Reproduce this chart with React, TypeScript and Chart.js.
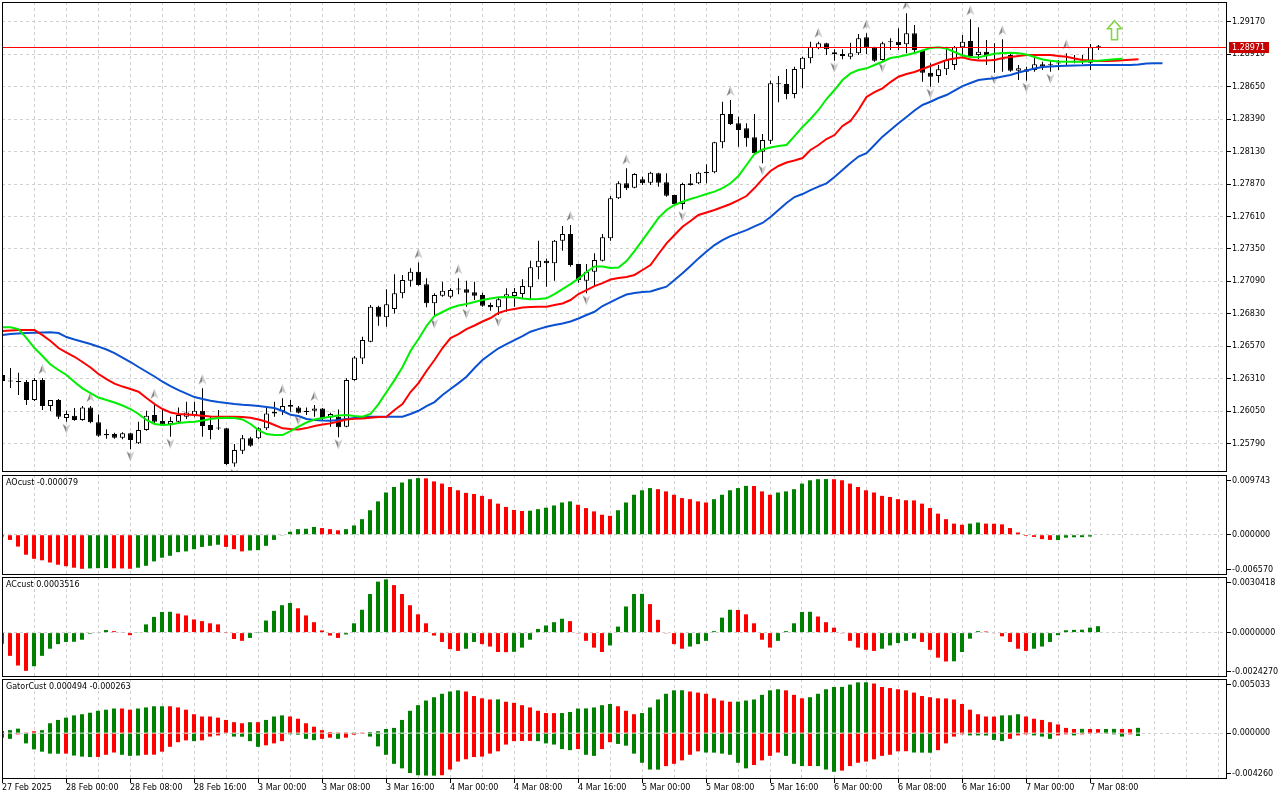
import React, { useEffect, useRef } from 'react';
import { Chart, registerables } from 'chart.js';

Chart.register(...registerables);
Chart.defaults.font.family = 'DejaVu Sans';

// H1 bars, one time label every 8 bars
const timeLabels = [
  '27 Feb 2025', '28 Feb 00:00', '28 Feb 08:00', '28 Feb 16:00', '3 Mar 00:00', '3 Mar 08:00',
  '3 Mar 16:00', '4 Mar 00:00', '4 Mar 08:00', '4 Mar 16:00', '5 Mar 00:00', '5 Mar 08:00',
  '5 Mar 16:00', '6 Mar 00:00', '6 Mar 08:00', '6 Mar 16:00', '7 Mar 00:00', '7 Mar 08:00',
];

const opens = [
  1.26339, 1.26294, 1.26290, 1.26282, 1.26138, 1.26298, 1.26090, 1.26138, 1.25994, 1.26012,
  1.25978, 1.26079, 1.25959, 1.25865, 1.25865, 1.25836, 1.25871, 1.25791, 1.25897, 1.26018,
  1.25970, 1.25943, 1.25964, 1.26004, 1.26018, 1.26052, 1.25938, 1.25913, 1.25911, 1.25630,
  1.25731, 1.25831, 1.25831, 1.25911, 1.26031, 1.26050, 1.26098, 1.26079, 1.26044, 1.26052,
  1.26071, 1.25999, 1.26004, 1.25924, 1.26298, 1.26472, 1.26606, 1.26886, 1.26801, 1.26868,
  1.26994, 1.27095, 1.27167, 1.27066, 1.26914, 1.26975, 1.26967, 1.27024, 1.27026, 1.27002,
  1.26980, 1.26900, 1.26882, 1.26954, 1.26972, 1.26988, 1.27042, 1.27202, 1.27255, 1.27234,
  1.27416, 1.27469, 1.27229, 1.27095, 1.27167, 1.27255, 1.27435, 1.27756, 1.27876, 1.27841,
  1.27908, 1.27881, 1.27956, 1.27884, 1.27782, 1.27710, 1.27876, 1.27876, 1.27956, 1.27964,
  1.28205, 1.28432, 1.28357, 1.28317, 1.28245, 1.28129, 1.28218, 1.28672, 1.28672, 1.28592,
  1.28790, 1.28878, 1.28959, 1.28999, 1.28927, 1.28913, 1.28891, 1.28919, 1.29047, 1.28967,
  1.28865, 1.29012, 1.29012, 1.28991, 1.29079, 1.28945, 1.28763, 1.28737, 1.28790, 1.28825,
  1.28967, 1.29017, 1.28905, 1.28931, 1.28870, 1.28873, 1.28905, 1.28779, 1.28771, 1.28785,
  1.28830, 1.28825, 1.28837, 1.28849, 1.28851, 1.28851, 1.28843, 1.28971,
];
const highs = [
  1.26379, 1.26395, 1.26357, 1.26298, 1.26314, 1.26314, 1.26138, 1.26146, 1.26052, 1.26074,
  1.26090, 1.26090, 1.26023, 1.25903, 1.25876, 1.25879, 1.25876, 1.25964, 1.26052, 1.26116,
  1.26058, 1.26004, 1.26079, 1.26124, 1.26124, 1.26232, 1.26004, 1.26058, 1.25916, 1.25785,
  1.25857, 1.25844, 1.25919, 1.26090, 1.26124, 1.26152, 1.26138, 1.26090, 1.26079, 1.26098,
  1.26075, 1.26036, 1.26063, 1.26312, 1.26491, 1.26646, 1.26900, 1.26894, 1.27026, 1.27146,
  1.27141, 1.27194, 1.27242, 1.27114, 1.26994, 1.27087, 1.27034, 1.27114, 1.27095, 1.27087,
  1.26999, 1.26918, 1.26962, 1.27034, 1.27036, 1.27106, 1.27255, 1.27416, 1.27274, 1.27421,
  1.27533, 1.27542, 1.27231, 1.27229, 1.27315, 1.27469, 1.27774, 1.27892, 1.27996, 1.27956,
  1.27929, 1.27969, 1.27961, 1.27956, 1.27785, 1.27881, 1.27951, 1.27969, 1.28028, 1.28210,
  1.28530, 1.28544, 1.28410, 1.28357, 1.28432, 1.28271, 1.28699, 1.28737, 1.28793, 1.28811,
  1.28891, 1.29012, 1.29012, 1.29004, 1.28951, 1.28951, 1.29004, 1.29073, 1.29079, 1.28972,
  1.29012, 1.29039, 1.29119, 1.29239, 1.29146, 1.28948, 1.28838, 1.28825, 1.28972, 1.28977,
  1.29065, 1.29191, 1.29127, 1.29025, 1.28999, 1.29031, 1.28919, 1.28825, 1.28811, 1.28905,
  1.28851, 1.28857, 1.28865, 1.28919, 1.28905, 1.28905, 1.28993, 1.28985,
];
const lows = [
  1.26258, 1.26234, 1.26178, 1.26098, 1.26130, 1.26058, 1.26050, 1.25986, 1.25964, 1.25972,
  1.25972, 1.25951, 1.25844, 1.25828, 1.25828, 1.25823, 1.25743, 1.25785, 1.25892, 1.25951,
  1.25930, 1.25844, 1.25956, 1.25986, 1.26004, 1.25844, 1.25823, 1.25897, 1.25617, 1.25603,
  1.25705, 1.25764, 1.25823, 1.25897, 1.26004, 1.26018, 1.26044, 1.26031, 1.26018, 1.26004,
  1.25978, 1.25924, 1.25839, 1.25919, 1.26293, 1.26427, 1.26601, 1.26734, 1.26726, 1.26833,
  1.26954, 1.27047, 1.27055, 1.26882, 1.26806, 1.26967, 1.26954, 1.26986, 1.26886, 1.26940,
  1.26886, 1.26854, 1.26820, 1.26846, 1.26886, 1.26946, 1.26946, 1.27106, 1.27047, 1.27095,
  1.27335, 1.27207, 1.27079, 1.26994, 1.27047, 1.27249, 1.27416, 1.27750, 1.27822, 1.27836,
  1.27862, 1.27862, 1.27849, 1.27769, 1.27702, 1.27667, 1.27858, 1.27870, 1.27876, 1.27956,
  1.28157, 1.28344, 1.28170, 1.28170, 1.28103, 1.28036, 1.28191, 1.28526, 1.28550, 1.28558,
  1.28638, 1.28838, 1.28951, 1.28905, 1.28859, 1.28870, 1.28870, 1.28905, 1.28913, 1.28851,
  1.28859, 1.28945, 1.28945, 1.28919, 1.28919, 1.28691, 1.28651, 1.28683, 1.28745, 1.28785,
  1.28878, 1.28891, 1.28870, 1.28825, 1.28763, 1.28771, 1.28771, 1.28704, 1.28699, 1.28771,
  1.28785, 1.28771, 1.28785, 1.28825, 1.28838, 1.28833, 1.28785, 1.28945,
];
const closes = [
  1.26290, 1.26286, 1.26282, 1.26138, 1.26298, 1.26090, 1.26138, 1.26004, 1.26026, 1.25978,
  1.26079, 1.25959, 1.25852, 1.25855, 1.25836, 1.25871, 1.25817, 1.25897, 1.26012, 1.25964,
  1.25943, 1.25970, 1.26018, 1.26039, 1.26052, 1.25930, 1.25897, 1.25909, 1.25625, 1.25737,
  1.25831, 1.25772, 1.25911, 1.26031, 1.26044, 1.26090, 1.26084, 1.26036, 1.26043, 1.26071,
  1.25991, 1.26026, 1.25919, 1.26298, 1.26480, 1.26619, 1.26886, 1.26806, 1.26906, 1.26994,
  1.27100, 1.27167, 1.27060, 1.26914, 1.26980, 1.27015, 1.27020, 1.27026, 1.26999, 1.26975,
  1.26894, 1.26882, 1.26946, 1.26986, 1.27004, 1.27052, 1.27202, 1.27255, 1.27234, 1.27416,
  1.27469, 1.27221, 1.27100, 1.27167, 1.27261, 1.27443, 1.27756, 1.27876, 1.27836, 1.27951,
  1.27876, 1.27961, 1.27881, 1.27777, 1.27710, 1.27870, 1.27862, 1.27961, 1.27969, 1.28205,
  1.28432, 1.28352, 1.28303, 1.28237, 1.28117, 1.28223, 1.28678, 1.28670, 1.28592, 1.28793,
  1.28883, 1.28972, 1.28999, 1.28951, 1.28911, 1.28897, 1.28919, 1.29039, 1.28967, 1.28859,
  1.28999, 1.29007, 1.28985, 1.29079, 1.28945, 1.28763, 1.28731, 1.28790, 1.28865, 1.28967,
  1.29012, 1.28897, 1.28931, 1.28897, 1.28862, 1.28868, 1.28779, 1.28798, 1.28790, 1.28830,
  1.28811, 1.28822, 1.28838, 1.28851, 1.28853, 1.28849, 1.28967, 1.28971,
];

// Alligator lines, already shifted forward (jaw 8, teeth 5, lips 3 bars)
const jaw = [
  1.26659, 1.26667, 1.26671, 1.26675, 1.26678, 1.26679, 1.26681, 1.26675, 1.26643, 1.26623,
  1.26606, 1.26587, 1.26566, 1.26543, 1.26515, 1.26479, 1.26443, 1.26403, 1.26365, 1.26327,
  1.26285, 1.26250, 1.26218, 1.26190, 1.26162, 1.26146, 1.26132, 1.26122, 1.26114, 1.26106,
  1.26100, 1.26096, 1.26090, 1.26082, 1.26074, 1.26050, 1.26020, 1.26010, 1.25986, 1.25978,
  1.25974, 1.25972, 1.25978, 1.25986, 1.25994, 1.26002, 1.26004, 1.26004, 1.26004, 1.26004,
  1.26004, 1.26026, 1.26052, 1.26090, 1.26122, 1.26178, 1.26226, 1.26274, 1.26325, 1.26395,
  1.26459, 1.26507, 1.26553, 1.26587, 1.26619, 1.26651, 1.26686, 1.26707, 1.26726, 1.26740,
  1.26752, 1.26768, 1.26792, 1.26820, 1.26846, 1.26892, 1.26924, 1.26956, 1.26984, 1.26996,
  1.27004, 1.27008, 1.27028, 1.27047, 1.27100, 1.27154, 1.27213, 1.27274, 1.27329, 1.27381,
  1.27421, 1.27453, 1.27477, 1.27501, 1.27530, 1.27558, 1.27606, 1.27662, 1.27718, 1.27766,
  1.27790, 1.27822, 1.27850, 1.27876, 1.27926, 1.27983, 1.28039, 1.28091, 1.28117, 1.28183,
  1.28250, 1.28303, 1.28357, 1.28408, 1.28460, 1.28504, 1.28530, 1.28560, 1.28584, 1.28620,
  1.28656, 1.28680, 1.28704, 1.28712, 1.28718, 1.28733, 1.28745, 1.28765, 1.28781, 1.28797,
  1.28809, 1.28813, 1.28817, 1.28819, 1.28821, 1.28822, 1.28825, 1.28825, 1.28825, 1.28825,
  1.28825, 1.28825, 1.28829, 1.28837, 1.28838, 1.28838,
];
const teeth = [
  1.26691, 1.26695, 1.26699, 1.26699, 1.26699, 1.26659, 1.26611, 1.26555, 1.26519, 1.26485,
  1.26443, 1.26399, 1.26347, 1.26306, 1.26270, 1.26246, 1.26226, 1.26205, 1.26154, 1.26106,
  1.26066, 1.26038, 1.26026, 1.26022, 1.26018, 1.26012, 1.26006, 1.26004, 1.26004, 1.26004,
  1.26002, 1.25996, 1.25982, 1.25964, 1.25938, 1.25911, 1.25905, 1.25901, 1.25913, 1.25930,
  1.25942, 1.25951, 1.25966, 1.25982, 1.25987, 1.25991, 1.25996, 1.26002, 1.26004, 1.26058,
  1.26106, 1.26202, 1.26274, 1.26371, 1.26459, 1.26555, 1.26635, 1.26667, 1.26707, 1.26736,
  1.26768, 1.26796, 1.26836, 1.26857, 1.26868, 1.26880, 1.26884, 1.26886, 1.26886, 1.26900,
  1.26912, 1.26940, 1.26988, 1.27020, 1.27052, 1.27076, 1.27104, 1.27116, 1.27125, 1.27141,
  1.27181, 1.27221, 1.27309, 1.27395, 1.27461, 1.27528, 1.27574, 1.27622, 1.27642, 1.27662,
  1.27686, 1.27710, 1.27742, 1.27774, 1.27838, 1.27910, 1.27975, 1.28015, 1.28043, 1.28059,
  1.28079, 1.28143, 1.28183, 1.28231, 1.28263, 1.28336, 1.28376, 1.28464, 1.28568, 1.28608,
  1.28638, 1.28688, 1.28731, 1.28753, 1.28769, 1.28793, 1.28817, 1.28841, 1.28865, 1.28877,
  1.28887, 1.28869, 1.28861, 1.28861, 1.28865, 1.28881, 1.28889, 1.28897, 1.28905, 1.28905,
  1.28905, 1.28905, 1.28897, 1.28891, 1.28877, 1.28865, 1.28861, 1.28857, 1.28857, 1.28859,
  1.28862, 1.28867, 1.28870,
];
const lips = [
  1.26721, 1.26721, 1.26707, 1.26635, 1.26555, 1.26491, 1.26423, 1.26379, 1.26339, 1.26282,
  1.26232, 1.26194, 1.26158, 1.26138, 1.26118, 1.26094, 1.26066, 1.26026, 1.25978, 1.25946,
  1.25938, 1.25942, 1.25954, 1.25959, 1.25964, 1.25974, 1.25986, 1.25994, 1.25996, 1.25994,
  1.25982, 1.25946, 1.25897, 1.25865, 1.25857, 1.25857, 1.25889, 1.25924, 1.25958, 1.25982,
  1.25994, 1.26004, 1.26014, 1.26018, 1.26010, 1.26004, 1.26026, 1.26106, 1.26202, 1.26298,
  1.26403, 1.26531, 1.26627, 1.26732, 1.26812, 1.26844, 1.26876, 1.26896, 1.26908, 1.26924,
  1.26940, 1.26952, 1.26962, 1.26964, 1.26962, 1.26952, 1.26946, 1.26948, 1.26954, 1.26988,
  1.27028, 1.27068, 1.27112, 1.27165, 1.27209, 1.27209, 1.27197, 1.27201, 1.27253, 1.27333,
  1.27421, 1.27509, 1.27598, 1.27662, 1.27702, 1.27728, 1.27750, 1.27769, 1.27790, 1.27809,
  1.27838, 1.27876, 1.27935, 1.28023, 1.28111, 1.28147, 1.28163, 1.28175, 1.28183, 1.28255,
  1.28328, 1.28392, 1.28464, 1.28552, 1.28624, 1.28704, 1.28757, 1.28785, 1.28798, 1.28825,
  1.28851, 1.28881, 1.28891, 1.28905, 1.28921, 1.28941, 1.28961, 1.28967, 1.28957, 1.28929,
  1.28901, 1.28889, 1.28886, 1.28901, 1.28915, 1.28921, 1.28923, 1.28919, 1.28909, 1.28889,
  1.28869, 1.28858, 1.28853, 1.28851, 1.28851, 1.28851, 1.28857, 1.28859, 1.28865, 1.28870,
  1.28875,
];

// bars carrying a fractal mark
const fractalUp = [5, 11, 19, 25, 35, 39, 52, 57, 71, 78, 91, 102, 108, 113, 121, 125, 133];
const fractalDown = [8, 16, 21, 29, 37, 42, 54, 58, 62, 73, 85, 95, 104, 110, 116, 124, 128, 131];

const priceTicks = [
  1.2579, 1.2605, 1.2631, 1.2657, 1.2683, 1.2709, 1.2735,
  1.2761, 1.2787, 1.2813, 1.2839, 1.2865, 1.2891, 1.2917,
];
const priceRange = [1.25561, 1.2933];
const currentPrice = 1.28971;
const buySignal = { bar: 139, price: 1.2918 };

const aoValues = [
  -0.00030, -0.00085, -0.00193, -0.00326, -0.00393, -0.00417, -0.00453, -0.00489, -0.00514, -0.00538,
  -0.00556, -0.00550, -0.00546, -0.00544, -0.00548, -0.00550, -0.00556, -0.00538, -0.00507, -0.00435,
  -0.00375, -0.00344, -0.00284, -0.00272, -0.00236, -0.00199, -0.00181, -0.00163, -0.00199, -0.00236,
  -0.00272, -0.00257, -0.00252, -0.00181, -0.00085, -0.00012, 0.00048, 0.00091, 0.00097, 0.00127,
  0.00109, 0.00091, 0.00072, 0.00091, 0.00151, 0.00254, 0.00399, 0.00544, 0.00689, 0.00779,
  0.00852, 0.00906, 0.00924, 0.00920, 0.00870, 0.00834, 0.00779, 0.00725, 0.00683, 0.00664,
  0.00634, 0.00580, 0.00507, 0.00453, 0.00405, 0.00387, 0.00392, 0.00417, 0.00441, 0.00477,
  0.00526, 0.00544, 0.00489, 0.00435, 0.00381, 0.00326, 0.00308, 0.00399, 0.00526, 0.00652,
  0.00725, 0.00761, 0.00743, 0.00707, 0.00652, 0.00598, 0.00580, 0.00544, 0.00526, 0.00580,
  0.00652, 0.00725, 0.00761, 0.00797, 0.00795, 0.00707, 0.00652, 0.00689, 0.00707, 0.00743,
  0.00834, 0.00888, 0.00906, 0.00908, 0.00906, 0.00888, 0.00834, 0.00779, 0.00725, 0.00689,
  0.00634, 0.00616, 0.00580, 0.00562, 0.00560, 0.00507, 0.00435, 0.00344, 0.00254, 0.00181,
  0.00163, 0.00181, 0.00199, 0.00181, 0.00179, 0.00169, 0.00109, 0.00036, -0.00018, -0.00036,
  -0.00072, -0.00085, -0.00087, -0.00048, -0.00042, -0.00040, -0.00030, -0.000079,
];
const aoColorRuns = 'r11 g3 r3 g11 r3 g9 r3 g10 r13 g6 r5 g5 r7 g5 r3 g7 r17 g2 r9 g6';
const aoAxis = [-0.00657, 0, 0.009743];

const acValues = [
  -0.00061, -0.00127, -0.00180, -0.00209, -0.00184, -0.00127, -0.00088, -0.00063, -0.00051, -0.00050,
  -0.00039, -0.00006, 0.00002, 0.00014, 0.00008, 0.00002, -0.00014, 0.00002, 0.00045, 0.00086,
  0.00113, 0.00114, 0.00104, 0.00094, 0.00072, 0.00063, 0.00051, 0.00045, 0.00001, -0.00035,
  -0.00045, -0.00029, 0.00001, 0.00066, 0.00119, 0.00150, 0.00162, 0.00133, 0.00094, 0.00057,
  0.00012, -0.00016, -0.00029, -0.00010, 0.00051, 0.00125, 0.00211, 0.00279, 0.00291, 0.00260,
  0.00211, 0.00150, 0.00100, 0.00051, -0.00016, -0.00051, -0.00090, -0.00100, -0.00088, -0.00051,
  -0.00063, -0.00076, -0.00106, -0.00107, -0.00105, -0.00082, -0.00039, 0.00020, 0.00039, 0.00057,
  0.00076, 0.00063, -0.00004, -0.00045, -0.00082, -0.00106, -0.00070, 0.00033, 0.00143, 0.00211,
  0.00212, 0.00156, 0.00070, -0.00004, -0.00063, -0.00088, -0.00076, -0.00063, -0.00045, 0.00008,
  0.00082, 0.00125, 0.00124, 0.00100, 0.00051, -0.00039, -0.00082, -0.00045, 0.00008, 0.00051,
  0.00113, 0.00114, 0.00088, 0.00057, 0.00027, -0.00004, -0.00045, -0.00082, -0.00094, -0.00100,
  -0.00088, -0.00070, -0.00057, -0.00045, -0.00033, -0.00051, -0.00094, -0.00137, -0.00158, -0.00157,
  -0.00106, -0.00033, 0.00008, 0.00006, -0.00002, -0.00020, -0.00051, -0.00088, -0.00100, -0.00088,
  -0.00076, -0.00051, -0.00014, 0.00013, 0.00015, 0.00016, 0.00027, 0.0003516,
];
const acColorRuns = 'r4 g10 r3 g5 r9 g6 r6 g6 r9 g2 r4 g7 r5 g5 r5 g6 r5 g5 r8 g5 r4 g4 r6 g9';
const acAxis = [-0.002427, 0, 0.0030418];

// Gator is drawn with the teeth shift, so it runs 5 bars past the last candle
const gatorUp = [
  0.00021, 0.00028, 0.00042, 0.00002, 0.00018, 0.00028, 0.00092, 0.00123, 0.00144, 0.00165,
  0.00176, 0.00190, 0.00208, 0.00218, 0.00229, 0.00229, 0.00218, 0.00229, 0.00239, 0.00250,
  0.00250, 0.00250, 0.00239, 0.00218, 0.00176, 0.00155, 0.00155, 0.00144, 0.00123, 0.00102,
  0.00092, 0.00102, 0.00102, 0.00123, 0.00155, 0.00165, 0.00155, 0.00134, 0.00092, 0.00060,
  0.00028, 0.00011, 0.00001, 0.00001, 0.00002, 0.00002, 0.00011, 0.00018, 0.00039, 0.00049,
  0.00123, 0.00208, 0.00260, 0.00303, 0.00334, 0.00366, 0.00387, 0.00398, 0.00387, 0.00345,
  0.00324, 0.00313, 0.00314, 0.00292, 0.00282, 0.00260, 0.00239, 0.00208, 0.00187, 0.00186,
  0.00187, 0.00197, 0.00229, 0.00230, 0.00239, 0.00260, 0.00271, 0.00250, 0.00208, 0.00176,
  0.00187, 0.00239, 0.00313, 0.00366, 0.00398, 0.00399, 0.00387, 0.00377, 0.00366, 0.00324,
  0.00303, 0.00292, 0.00293, 0.00303, 0.00313, 0.00356, 0.00398, 0.00408, 0.00398, 0.00356,
  0.00324, 0.00334, 0.00366, 0.00408, 0.00429, 0.00430, 0.00451, 0.00472, 0.00473, 0.00461,
  0.00429, 0.00419, 0.00408, 0.00398, 0.00377, 0.00345, 0.00334, 0.00324, 0.00323, 0.00313,
  0.00271, 0.00218, 0.00176, 0.00155, 0.00154, 0.00165, 0.00166, 0.00176, 0.00155, 0.00134,
  0.00123, 0.00102, 0.00081, 0.00049, 0.00039, 0.00040, 0.00039, 0.00038, 0.00039, 0.00040,
  0.00039, 0.00038, 0.000494,
];
const gatorUpColorRuns = 'g3 r2 g10 r2 g4 r10 g1 r1 g3 r8 g1 r1 g12 r4 g1 r7 g7 r3 g6 r6 g6 r3 g8 r16 g3 r7 g1 r2 g2 r2 g1';
const gatorDown = [
  -0.00042, -0.00053, -0.00011, -0.00095, -0.00151, -0.00172, -0.00190, -0.00191, -0.00190, -0.00208,
  -0.00218, -0.00222, -0.00221, -0.00201, -0.00180, -0.00201, -0.00211, -0.00208, -0.00201, -0.00200,
  -0.00172, -0.00127, -0.00084, -0.00067, -0.00074, -0.00067, -0.00032, -0.00021, -0.00004, -0.00032,
  -0.00033, -0.00074, -0.00127, -0.00113, -0.00095, -0.00074, -0.00010, -0.00014, -0.00053, -0.00065,
  -0.00053, -0.00042, -0.00053, -0.00042, -0.00014, -0.00007, -0.00032, -0.00123, -0.00201, -0.00285,
  -0.00327, -0.00370, -0.00391, -0.00394, -0.00395, -0.00391, -0.00338, -0.00264, -0.00243, -0.00222,
  -0.00218, -0.00190, -0.00169, -0.00106, -0.00074, -0.00073, -0.00072, -0.00074, -0.00095, -0.00106,
  -0.00148, -0.00158, -0.00148, -0.00201, -0.00211, -0.00148, -0.00084, -0.00100, -0.00116, -0.00190,
  -0.00275, -0.00338, -0.00339, -0.00306, -0.00285, -0.00253, -0.00201, -0.00169, -0.00180, -0.00181,
  -0.00190, -0.00201, -0.00275, -0.00327, -0.00296, -0.00253, -0.00211, -0.00180, -0.00211, -0.00285,
  -0.00306, -0.00305, -0.00306, -0.00338, -0.00359, -0.00348, -0.00306, -0.00275, -0.00264, -0.00243,
  -0.00211, -0.00201, -0.00169, -0.00168, -0.00180, -0.00181, -0.00182, -0.00158, -0.00095, -0.00032,
  -0.00011, -0.00021, -0.00021, -0.00022, -0.00063, -0.00074, -0.00053, -0.00021, -0.00011, -0.00021,
  -0.00032, -0.00053, -0.00021, -0.00011, -0.00021, -0.00011, -0.00007, -0.00004, -0.00007, -0.00011,
  -0.00032, -0.00011, -0.000263,
];
const gatorDownColorRuns = 'g2 r1 g5 r1 g3 r3 g3 r6 g1 r4 g4 r3 g4 r2 g1 r3 g9 r12 g5 r1 g2 r2 g6 r5 g6 r4 g3 r1 g3 r9 g3 r4 g5 r3 g3 r2 g1 r3 g3 r1 g1';
const gatorAxis = [-0.00426, 0, 0.005033];

const FONT = { family: 'DejaVu Sans', size: 8 };
const GRID = '#d0d0d0';
const GREEN = '#008000';
const RED = '#ff0000';
const PLOT_W = 1225; // width of every pane's plot area in px
const BAR_PX = 8;

const runColors = (spec: string) =>
  spec.split(' ').flatMap((r) => Array(Number(r.slice(1))).fill(r[0] === 'g' ? GREEN : RED));

const pts = (arr: number[]) => arr.map((v, i) => ({ x: i, y: v }));

const framePlugin = {
  id: 'frame',
  afterDraw(chart: any) {
    const { ctx, chartArea: a } = chart;
    ctx.save();
    ctx.setLineDash([]);
    ctx.strokeStyle = '#000';
    ctx.lineWidth = 1;
    ctx.strokeRect(a.left + 0.5, a.top + 0.5, a.right - a.left - 1, a.bottom - a.top - 1);
    ctx.restore();
  },
};

const legendPlugin = (text: string) => ({
  id: 'paneLegend',
  afterDraw(chart: any) {
    const { ctx, chartArea: a } = chart;
    ctx.save();
    ctx.font = '8px "DejaVu Sans"';
    ctx.fillStyle = '#000';
    ctx.textBaseline = 'top';
    ctx.fillText(text, a.left + 4, a.top + 4);
    ctx.restore();
  },
});

// bid line across the plot, its price tag on the right scale
const bidPlugin = {
  id: 'bidLine',
  afterDatasetsDraw(chart: any) {
    const { ctx, chartArea: a } = chart;
    const y = Math.round(chart.scales.y.getPixelForValue(currentPrice));
    ctx.save();
    ctx.globalAlpha = 1;
    ctx.globalCompositeOperation = 'source-over';
    ctx.fillStyle = '#ff0000';
    ctx.fillRect(a.left, y, a.right - a.left, 1);
    ctx.restore();
  },
  afterDraw(chart: any) {
    const { ctx, chartArea: a } = chart;
    const y = Math.round(chart.scales.y.getPixelForValue(currentPrice));
    ctx.save();
    ctx.fillStyle = '#c80000';
    ctx.fillRect(a.right + 2, y - 5, 40, 11);
    ctx.fillStyle = '#fff';
    ctx.font = '8px "DejaVu Sans"';
    ctx.textBaseline = 'middle';
    ctx.fillText(currentPrice.toFixed(5), a.right + 5, y + 0.5);
    ctx.restore();
  },
};

const signalPlugin = {
  id: 'buySignal',
  afterDatasetsDraw(chart: any) {
    const { ctx } = chart;
    const x = chart.scales.x.getPixelForValue(buySignal.bar);
    const t = chart.scales.y.getPixelForValue(buySignal.price);
    ctx.save();
    ctx.setLineDash([]);
    ctx.beginPath();
    ctx.moveTo(x, t);
    ctx.lineTo(x + 7, t + 8);
    ctx.lineTo(x + 3, t + 8);
    ctx.lineTo(x + 3, t + 19);
    ctx.lineTo(x - 3, t + 19);
    ctx.lineTo(x - 3, t + 8);
    ctx.lineTo(x - 7, t + 8);
    ctx.closePath();
    ctx.fillStyle = '#fff';
    ctx.fill();
    ctx.lineWidth = 1.6;
    ctx.strokeStyle = '#84d44a';
    ctx.stroke();
    ctx.restore();
  },
};

function fractalIcon(up: boolean) {
  const c = document.createElement('canvas');
  c.width = 9;
  c.height = 30;
  const g = c.getContext('2d')!;
  const top = up ? 1 : 17;
  const tip = up ? [4.5, top] : [4.5, top + 10];
  const notch = up ? [4.5, top + 7] : [4.5, top + 3];
  const l = up ? [0.5, top + 10] : [0.5, top];
  const r = up ? [8.5, top + 10] : [8.5, top];
  g.fillStyle = '#858585';
  g.beginPath();
  g.moveTo(tip[0], tip[1]);
  g.lineTo(l[0], l[1]);
  g.lineTo(notch[0], notch[1]);
  g.closePath();
  g.fill();
  g.fillStyle = '#cbcbcb';
  g.beginPath();
  g.moveTo(tip[0], tip[1]);
  g.lineTo(r[0], r[1]);
  g.lineTo(notch[0], notch[1]);
  g.closePath();
  g.fill();
  return c;
}

function xAxis(min: number, bottom: boolean) {
  return {
    type: 'linear',
    min,
    max: min + PLOT_W / BAR_PX,
    offset: false,
    afterBuildTicks: (s: any) => {
      const t = [];
      for (let v = 0; v <= 152; v += 4) t.push({ value: v });
      s.ticks = t;
    },
    afterFit: (s: any) => {
      s.height = bottom ? 21 : 0;
      s.paddingLeft = 0;
      s.paddingRight = 0;
    },
    ticks: {
      display: bottom,
      autoSkip: false,
      maxRotation: 0,
      minRotation: 0,
      align: 'start',
      padding: 0,
      color: '#000',
      font: FONT,
      callback: (v: number) => (v % 8 === 0 && timeLabels[v / 8] ? timeLabels[v / 8] : ''),
    },
    grid: {
      offset: false,
      color: GRID,
      drawTicks: bottom,
      tickLength: 4,
      tickColor: (c: any) =>
        c.tick && c.tick.value % 8 === 0 && c.tick.value <= 136 ? '#000' : 'rgba(0,0,0,0)',
    },
    border: { display: false, dash: [3, 3] },
  };
}

function paneAxis(axis: number[], digits: number, onTop: boolean) {
  return {
    type: 'linear',
    position: 'right',
    min: axis[0],
    max: axis[2],
    z: onTop ? 1 : 0,
    afterFit: (s: any) => {
      s.width = 53;
      s.paddingTop = 0;
      s.paddingBottom = 0;
    },
    afterBuildTicks: (s: any) => {
      const pad = (s.max - s.min) * 0.055;
      s.ticks = [{ value: s.min + pad }, { value: 0 }, { value: s.max - pad }];
    },
    ticks: {
      autoSkip: false,
      padding: 1,
      color: '#000',
      font: FONT,
      callback: (_v: number, i: number) => axis[i].toFixed(digits),
    },
    grid: {
      color: (c: any) => (c.tick && c.tick.value === 0 ? GRID : 'rgba(0,0,0,0)'),
      tickLength: 4,
      tickColor: '#000',
    },
    border: { display: false, dash: [3, 3] },
  };
}

const baseOptions = (padding: any) => ({
  responsive: false,
  animation: false,
  events: [],
  layout: { padding, autoPadding: false },
  plugins: { legend: { display: false }, tooltip: { enabled: false } },
});

const histogram = (values: number[], colors: string[]) => ({
  data: pts(values),
  backgroundColor: colors,
  barThickness: 4,
  borderWidth: 0,
  grouped: false,
  inflateAmount: 0,
});

export default function App() {
  const mainRef = useRef<HTMLCanvasElement>(null);
  const aoRef = useRef<HTMLCanvasElement>(null);
  const acRef = useRef<HTMLCanvasElement>(null);
  const gatorRef = useRef<HTMLCanvasElement>(null);

  useEffect(() => {
    if (!mainRef.current || !aoRef.current || !acRef.current || !gatorRef.current) return;

    const upIcon = fractalIcon(true);
    const downIcon = fractalIcon(false);
    const line = (arr: number[], color: string) => ({
      type: 'line',
      data: pts(arr),
      borderColor: color,
      borderWidth: 2,
      pointRadius: 0,
      tension: 0,
      fill: false,
      order: 0,
    });
    const fractals = (bars: number[], src: number[], icon: HTMLCanvasElement) => ({
      type: 'line',
      data: bars.map((b) => ({ x: b, y: src[b] })),
      showLine: false,
      pointStyle: icon,
      pointRadius: 5,
      order: 1,
    });

    const main = new Chart(mainRef.current, {
      type: 'bar',
      data: {
        datasets: [
          line(lips, '#00ee00'),
          line(teeth, '#ff0000'),
          line(jaw, '#0a50d0'),
          fractals(fractalUp, highs, upIcon),
          fractals(fractalDown, lows, downIcon),
          {
            data: opens.map((o, i) => ({ x: i, y: [Math.min(o, closes[i]), Math.max(o, closes[i])] })),
            backgroundColor: opens.map((o, i) => (closes[i] > o ? '#ffffff' : '#000000')),
            borderColor: '#000',
            borderWidth: 1,
            borderSkipped: false,
            barThickness: 5,
            minBarLength: 1,
            grouped: false,
            inflateAmount: 0,
            order: 2,
          },
          {
            data: highs.map((h, i) => ({ x: i, y: [lows[i], h] })),
            backgroundColor: '#000',
            borderWidth: 0,
            barThickness: 1,
            grouped: false,
            inflateAmount: 0,
            order: 3,
          },
        ],
      } as any,
      options: {
        ...baseOptions({ top: 2, bottom: 2, left: 2, right: 0 }),
        scales: {
          x: xAxis(-0.0625, false),
          y: {
            type: 'linear',
            position: 'right',
            min: priceRange[0],
            max: priceRange[1],
            afterFit: (s: any) => {
              s.width = 53;
              s.paddingTop = 0;
              s.paddingBottom = 0;
            },
            afterBuildTicks: (s: any) => {
              s.ticks = priceTicks.map((v) => ({ value: v }));
            },
            ticks: {
              autoSkip: false,
              padding: 1,
              color: '#000',
              font: FONT,
              callback: (v: number) => Number(v).toFixed(5),
            },
            grid: { color: GRID, tickLength: 4, tickColor: '#000' },
            border: { display: false, dash: [3, 3] },
          },
        },
      } as any,
      plugins: [bidPlugin, signalPlugin, framePlugin],
    });

    const ao = new Chart(aoRef.current, {
      type: 'bar',
      data: { datasets: [histogram(aoValues, runColors(aoColorRuns))] } as any,
      options: {
        ...baseOptions({ top: 1, bottom: 1, left: 2, right: 0 }),
        scales: { x: xAxis(0, false), y: paneAxis(aoAxis, 6, false) },
      } as any,
      plugins: [framePlugin, legendPlugin(`AOcust ${aoValues[aoValues.length - 1].toFixed(6)}`)],
    });

    const ac = new Chart(acRef.current, {
      type: 'bar',
      data: { datasets: [histogram(acValues, runColors(acColorRuns))] } as any,
      options: {
        ...baseOptions({ top: 1, bottom: 1, left: 2, right: 0 }),
        scales: { x: xAxis(0, false), y: paneAxis(acAxis, 7, false) },
      } as any,
      plugins: [framePlugin, legendPlugin(`ACcust ${acValues[acValues.length - 1].toFixed(7)}`)],
    });

    const gator = new Chart(gatorRef.current, {
      type: 'bar',
      data: {
        datasets: [
          histogram(gatorUp, runColors(gatorUpColorRuns)),
          histogram(gatorDown, runColors(gatorDownColorRuns)),
        ],
      } as any,
      options: {
        ...baseOptions({ top: 1, bottom: 0, left: 2, right: 0 }),
        scales: { x: xAxis(0, true), y: paneAxis(gatorAxis, 6, true) },
      } as any,
      plugins: [
        framePlugin,
        legendPlugin(
          `GatorCust ${gatorUp[gatorUp.length - 1].toFixed(6)} ${gatorDown[gatorDown.length - 1].toFixed(6)}`,
        ),
      ],
    });

    return () => {
      main.destroy();
      ao.destroy();
      ac.destroy();
      gator.destroy();
    };
  }, []);

  const abs = (top: number): React.CSSProperties => ({ position: 'absolute', left: 0, top });

  return (
    <div
      style={{
        position: 'fixed',
        left: 0,
        top: 0,
        width: 1280,
        height: 800,
        background: '#fff',
        overflow: 'hidden',
      }}
    >
      <canvas ref={mainRef} width={1280} height={474} style={abs(0)} />
      <canvas ref={aoRef} width={1280} height={102} style={abs(474)} />
      <canvas ref={acRef} width={1280} height={102} style={abs(576)} />
      <canvas ref={gatorRef} width={1280} height={122} style={abs(678)} />
    </div>
  );
}
